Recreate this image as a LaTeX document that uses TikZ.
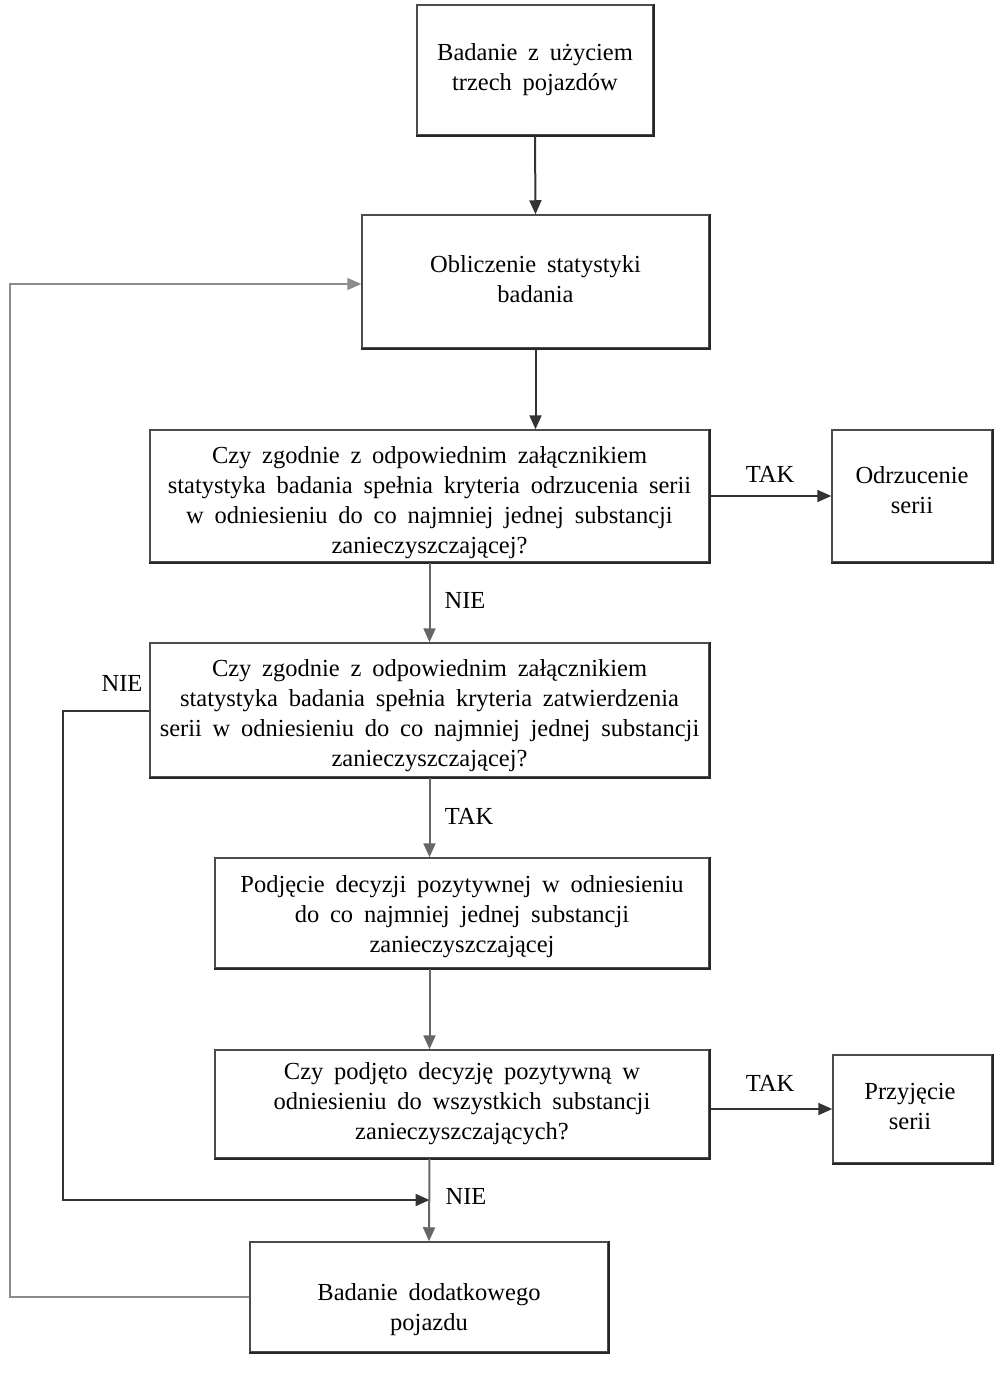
\documentclass[tikz,border=0pt]{standalone}
\usepackage{fontspec}
\setmainfont{Liberation Serif}
\usetikzlibrary{arrows.meta}
\begin{document}
\begin{tikzpicture}[x=1pt,y=-1pt,
  txt/.style={font={\fontsize{24.5}{30}\selectfont\spaceskip=0.44em plus 0.1em minus 0.05em}},
  box/.style={draw=black!70, line width=1.5pt, inner sep=0pt, rectangle},
  btext/.style={txt, align=center, inner sep=0pt},
  conn/.style={draw=black!80, line width=2pt},
  arr/.style={conn, -{Triangle[length=14pt,width=12pt]}},
  lbl/.style={txt, inner sep=0pt}
]
\useasboundingbox (0,0) rectangle (1002,1383);
% boxes
\node[box, minimum width=236, minimum height=130] (b1) at (535,70) {};
\node[box, minimum width=347, minimum height=133] (b2) at (535.5,281.5) {};
\node[box, minimum width=559, minimum height=132] (b3) at (429.5,496) {};
\node[box, minimum width=160, minimum height=132] (b4) at (912,496) {};
\node[box, minimum width=559, minimum height=134] (b5) at (429.5,710) {};
\node[box, minimum width=494, minimum height=110] (b6) at (462,913) {};
\node[box, minimum width=494, minimum height=108] (b7) at (462,1104) {};
\node[box, minimum width=159, minimum height=108] (b8) at (912.5,1109) {};
\node[box, minimum width=358, minimum height=110] (b9) at (429,1297) {};
% texts
\node[btext] (t1) at (535,70) {Badanie z użyciem\\trzech pojazdów};
\node[btext] (t2) at (535.5,279) {Obliczenie statystyki\\badania};
\node[btext] (t3) at (429.5,503) {Czy zgodnie z odpowiednim załącznikiem\\statystyka badania spełnia kryteria odrzucenia serii\\w odniesieniu do co najmniej jednej substancji\\zanieczyszczającej?};
\node[btext] (t4) at (912,490) {Odrzucenie\\serii};
\node[btext] (t5) at (429.5,716) {Czy zgodnie z odpowiednim załącznikiem\\statystyka badania spełnia kryteria zatwierdzenia\\serii w odniesieniu do co najmniej jednej substancji\\zanieczyszczającej?};
\node[btext] (t6) at (462,917) {Podjęcie decyzji pozytywnej w odniesieniu\\do co najmniej jednej substancji\\zanieczyszczającej};
\node[btext] (t7) at (462,1104) {Czy podjęto decyzję pozytywną w\\odniesieniu do wszystkich substancji\\zanieczyszczających?};
\node[btext] (t8) at (910,1106) {Przyjęcie\\serii};
\node[btext] (t9) at (429,1310) {Badanie dodatkowego\\pojazdu};
% heavier right/bottom edges
\foreach \n in {b1,b2,b3,b4,b5,b6,b7,b8,b9}
  \draw[black!85, line width=2.4pt] (\n.south west) -- (\n.south east) -- (\n.north east);
% connectors
\draw[arr] (b1.south) -- (b2.north);
\draw[arr] (b2.south) -- (b3.north -| b2.south);
\draw[arr] (b3.east |- b4.west) -- (b4.west);
\node[lbl] (tak1) at (770,474) {TAK};
\draw[arr, draw=black!60] (b3.south) -- (b5.north);
\node[lbl] (nie1) at (465,600) {NIE};
\draw[arr, draw=black!60] (b5.south) -- (b5.south |- b6.north);
\node[lbl] (tak2) at (469,816) {TAK};
\draw[arr, draw=black!60] (b6.south -| b5.south) -- (b5.south |- b7.north);
\draw[arr] (b7.east |- b8.west) -- (b8.west);
\node[lbl] (tak3) at (770,1083) {TAK};
\coordinate (j) at (b5.south |- 0,1200);
\draw[arr, draw=black!60] (b7.south -| b5.south) -- (b9.north);
\node[lbl] (nie2) at (466,1196) {NIE};
\draw[arr] (b5.west |- 0,711) -| (63,1200) -- (j);
\node[lbl] (nie3) at (122,683) {NIE};
\draw[arr, draw=black!45, line width=1.6pt] (b9.west) -| (10,284) -- (b2.west |- 0,284);
\end{tikzpicture}
\end{document}
